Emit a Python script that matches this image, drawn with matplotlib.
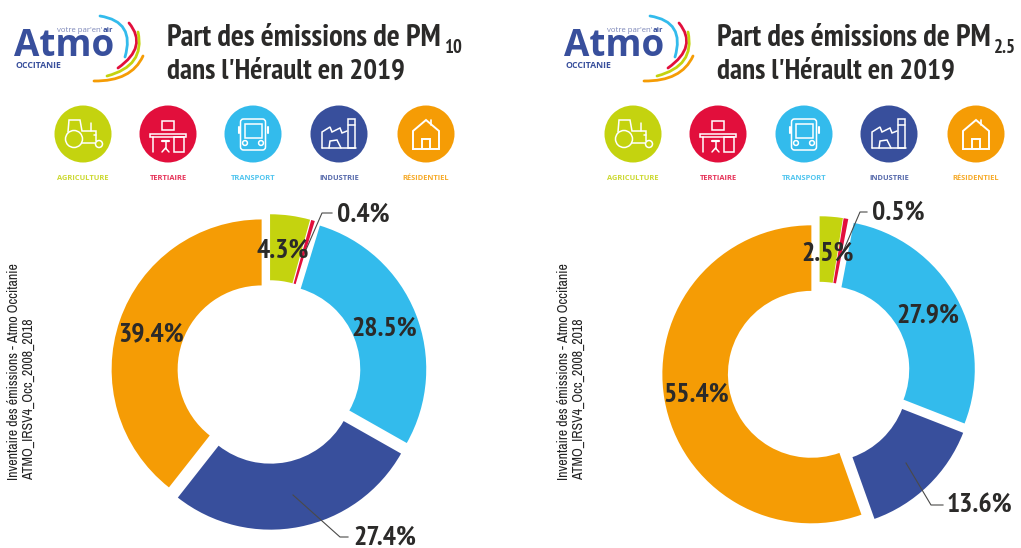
import matplotlib
matplotlib.use("Agg")
import matplotlib.pyplot as plt
from matplotlib.patches import Circle, Rectangle, PathPatch, FancyBboxPatch
from matplotlib.path import Path

W, H = 1021, 548
CATEGORIES = ["AGRICULTURE", "TERTIAIRE", "TRANSPORT", "INDUSTRIE", "RÉSIDENTIEL"]
COLORS = ["#C4D30F", "#E20F3C", "#33BBEC", "#384F9C", "#F59C05"]
PM10 = [4.3, 0.4, 28.5, 27.4, 39.4]
PM25 = [2.5, 0.5, 27.9, 13.6, 55.4]
NARROW = ["Archivo Narrow", "Roboto Condensed", "Liberation Sans"]
NARROW_BOLD = ["PT Sans Narrow", "Pragati Narrow", "Liberation Sans"]
DARK = "#2B2A29"

fig = plt.figure(figsize=(W / 100, H / 100), dpi=100, facecolor="white")
deco = fig.add_axes([0, 0, 1, 1], zorder=1)
deco.set_xlim(0, W); deco.set_ylim(H, 0); deco.axis("off"); deco.patch.set_alpha(0)
over = fig.add_axes([0, 0, 1, 1], zorder=5)
over.set_xlim(0, W); over.set_ylim(H, 0); over.axis("off"); over.patch.set_alpha(0)


def donut(values, cx, cy, R):
    half = R * 1.3
    ax = fig.add_axes([(cx - half) / W, 1 - (cy + half) / H, 2 * half / W, 2 * half / H], zorder=2)
    ax.pie(values, colors=COLORS, startangle=90, counterclock=False, explode=[0.052] * 5,
           radius=1.0, wedgeprops=dict(width=0.44, linewidth=0))
    ax.set_xlim(-1.3, 1.3); ax.set_ylim(-1.3, 1.3); ax.set_aspect("equal")
    ax.patch.set_alpha(0)


def curve(p0, pm, p2, color, lw=2.0):
    ctrl = (2 * pm[0] - (p0[0] + p2[0]) / 2, 2 * pm[1] - (p0[1] + p2[1]) / 2)
    deco.add_patch(PathPatch(Path([p0, ctrl, p2], [Path.MOVETO, Path.CURVE3, Path.CURVE3]),
                             fc="none", ec=color, lw=lw, capstyle="round"))


def logo(dx):
    deco.text(14 + dx, 56, "Atmo", family="Open Sans", weight="bold", fontsize=26.5,
              color="#384F9C", va="baseline", ha="left")
    deco.text(15 + dx, 68, "OCCITANIE", family="Open Sans", weight="bold", fontsize=6.3,
              color="#384F9C", va="baseline", ha="left")
    deco.text(57 + dx, 32, "votre par'en'", family="Open Sans", fontsize=5.6,
              color="#7C86B8", va="baseline", ha="left")
    deco.text(103 + dx, 32, "air", family="Open Sans", weight="bold", fontsize=5.4,
              color="#384F9C", va="baseline", ha="left")
    curve((100 + dx, 16), (124 + dx, 29), (125 + dx, 57), COLORS[2])
    curve((129 + dx, 23), (136 + dx, 46), (118 + dx, 68), COLORS[1])
    curve((138 + dx, 32), (134 + dx, 60), (107 + dx, 76), COLORS[0])
    curve((143 + dx, 56), (125 + dx, 75), (94 + dx, 81), COLORS[4])


def wline(pts, lw=1.1):
    xs, ys = zip(*pts)
    deco.plot(xs, ys, color="white", lw=lw, solid_capstyle="round", solid_joinstyle="miter")


def wrect(x, y, w, h, lw=1.1):
    deco.add_patch(Rectangle((x, y), w, h, fc="none", ec="white", lw=lw))


def wcirc(x, y, r, lw=1.1):
    deco.add_patch(Circle((x, y), r, fc="none", ec="white", lw=lw))


def icon(kind, cx, cy):
    if kind == 0:  # tractor
        wcirc(cx - 9, cy + 5, 8.5); wcirc(cx + 16, cy + 10, 3.5)
        wline([(cx - 15, cy - 2), (cx - 14, cy - 14), (cx - 3, cy - 14), (cx - 1, cy - 3),
               (cx + 13, cy - 3), (cx + 13, cy + 7)])
        wline([(cx - 1, cy + 9), (cx + 12, cy + 9)])
        wline([(cx + 8, cy - 3), (cx + 8, cy - 11)])
        wline([(cx + 11, cy + 1), (cx + 13, cy + 1)])
    elif kind == 1:  # desk
        wrect(cx - 6, cy - 13, 12, 9)
        wrect(cx - 18, cy, 36, 3)
        wline([(cx - 15, cy + 3), (cx - 15, cy + 18)])
        wrect(cx + 6, cy + 3, 10, 15)
        wline([(cx - 6, cy + 7), (cx + 1, cy + 7)], 1.6)
        wline([(cx - 2.5, cy + 7), (cx - 2.5, cy + 15)])
        wline([(cx - 6, cy + 18), (cx - 2.5, cy + 14), (cx + 1, cy + 18)])
    elif kind == 2:  # bus
        deco.add_patch(FancyBboxPatch((cx - 12.5, cy - 15), 25, 31, boxstyle="round,pad=0,rounding_size=3",
                                      fc="none", ec="white", lw=1.1))
        wrect(cx - 8.5, cy - 10, 17, 14)
        wcirc(cx - 8, cy + 9, 2.4); wcirc(cx + 8, cy + 9, 2.4)
        wline([(cx - 14.5, cy - 7), (cx - 14.5, cy - 1)], 1.5)
        wline([(cx + 14.5, cy - 7), (cx + 14.5, cy - 1)], 1.5)
    elif kind == 3:  # factory
        wline([(cx - 17, cy + 14), (cx - 17, cy - 2), (cx - 9, cy - 7), (cx - 7, cy - 2),
               (cx + 1, cy - 6), (cx + 3, cy - 1), (cx + 8, cy - 3)])
        wline([(cx - 17, cy + 14), (cx + 17, cy + 14)])
        wrect(cx + 9, cy - 15, 7, 29)
        wline([(cx + 9, cy - 9), (cx + 16, cy - 9)])
        wline([(cx - 10, cy + 14), (cx - 9, cy + 7), (cx - 2, cy + 6), (cx + 2, cy + 14)])
    else:  # house
        wline([(cx - 13, cy + 15), (cx - 13, cy - 3), (cx, cy - 14), (cx + 13, cy - 3),
               (cx + 13, cy + 15), (cx - 13, cy + 15)], 1.4)
        wrect(cx - 4, cy + 5, 8, 10, 1.4)
        wline([(cx + 5, cy - 9), (cx + 5, cy - 14)], 1.2)


def icons(xs, cy=134, r=28.5):
    for i, x in enumerate(xs):
        deco.add_patch(Circle((x, cy), r, fc=COLORS[i], ec="none"))
        icon(i, x, cy)
        deco.text(x, 178.5, CATEGORIES[i], family="Open Sans", weight="bold", fontsize=5.4,
                  color=COLORS[i], ha="center", va="center", alpha=0.85)


def title(x, sub, sub_x):
    deco.text(x, 46, "Part des émissions de PM", family=NARROW_BOLD, weight="bold", fontsize=22,
              color=DARK, va="baseline", ha="left")
    deco.text(sub_x, 53, sub, family=NARROW_BOLD, weight="bold", fontsize=13.5,
              color=DARK, va="baseline", ha="left")
    deco.text(x, 79, "dans l'Hérault en 2019", family=NARROW_BOLD, weight="bold", fontsize=21,
              color=DARK, va="baseline", ha="left")


def pct(v):
    return f"{v:.1f}%"


def value(x, y, v, ha="center"):
    over.text(x, y, pct(v), family=NARROW_BOLD, weight="bold", fontsize=20, color=DARK,
              ha=ha, va="center")


def leader(pts):
    xs, ys = zip(*pts)
    over.plot(xs, ys, color="#4A4A49", lw=0.8)


def source(x):
    for dx, s in zip((0, 15), ("Inventaire des émissions - Atmo Occitanie", "ATMO_IRSV4_Occ_2008_2018")):
        deco.text(x + dx, 480, s, family=NARROW, fontsize=10, color="#222222", rotation=90,
                  ha="center", va="bottom")


# left panel
logo(0)
title(167, "10", 444)
icons([83, 168, 253, 339, 426])
source(14)
donut(PM10, 269, 372, 150)
value(283, 251, PM10[0]); value(151, 334, PM10[4]); value(384, 329, PM10[2])
value(337, 215, PM10[1], "left"); value(353, 538, PM10[3], "left")
leader([(305, 252), (322, 213), (332, 213)])
leader([(293, 495), (340, 537), (348, 537)])

# right panel
logo(550)
title(717, "2.5", 994)
icons([633, 718, 804, 889, 976])
source(564)
donut(PM25, 819, 373, 149)
value(828, 254, PM25[0]); value(696, 395, PM25[4]); value(928, 315, PM25[2])
value(872, 213, PM25[1], "left"); value(947, 506, PM25[3], "left")
leader([(842, 254), (860, 212), (867, 212)])
leader([(906, 463), (931, 505), (943, 505)])

fig.savefig("out.png", dpi=100, facecolor="white")
